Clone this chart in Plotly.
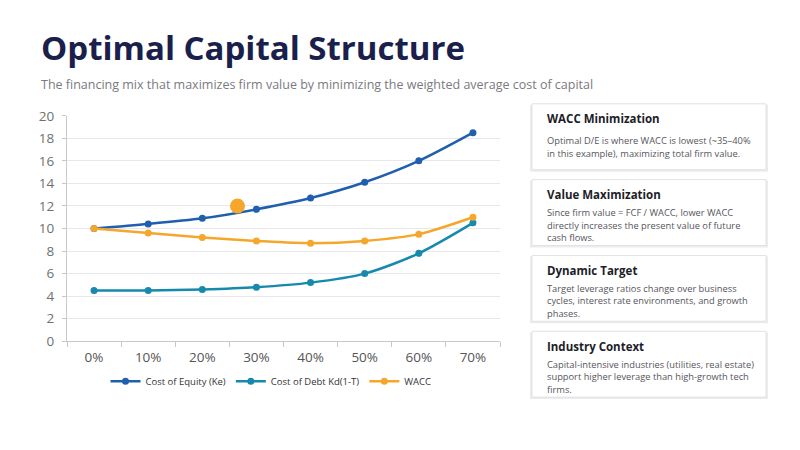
import plotly.graph_objects as go

# Data
leverage = ["0%", "10%", "20%", "30%", "40%", "50%", "60%", "70%"]
cost_equity = [10.0, 10.4, 10.9, 11.7, 12.7, 14.1, 16.0, 18.5]
cost_debt = [4.5, 4.5, 4.6, 4.8, 5.2, 6.0, 7.8, 10.5]
wacc = [10.0, 9.6, 9.2, 8.9, 8.7, 8.9, 9.5, 11.0]
highlight_x = [2.65]
highlight_y = [12.0]

card_titles = ["WACC Minimization", "Value Maximization", "Dynamic Target", "Industry Context"]
card_texts = [
    ["Optimal D/E is where WACC is lowest (~35\u201340%", "in this example), maximizing total firm value."],
    ["Since firm value = FCF / WACC, lower WACC", "directly increases the present value of future", "cash flows."],
    ["Target leverage ratios change over business", "cycles, interest rate environments, and growth", "phases."],
    ["Capital-intensive industries (utilities, real estate)", "support higher leverage than high-growth tech", "firms."],
]

W, H = 800, 450
FONT = "Open Sans"
xs = list(range(len(leverage)))

fig = go.Figure()

series = [
    ("Cost of Equity (Ke)", cost_equity, "#1f5fae"),
    ("Cost of Debt Kd(1-T)", cost_debt, "#158aad"),
    ("WACC", wacc, "#f5a72c"),
]
for name, vals, color in series:
    fig.add_trace(go.Scatter(
        x=xs, y=vals, name=name, mode="lines+markers",
        line=dict(color=color, width=2.5, shape="spline", smoothing=0.8),
        marker=dict(size=7, color=color),
    ))

fig.add_trace(go.Scatter(
    x=highlight_x, y=highlight_y, mode="markers", showlegend=False,
    marker=dict(size=15, color="#f5a72c"), hoverinfo="skip",
))

# pixel -> paper helpers (compensating for the page offset seen in the render)
def py(y):
    return 1 - (y - 17) / 433

def px(x):
    return (x - 7) / W

shapes = []
annotations = []

# Title and subtitle
annotations.append(dict(
    text="<b>Optimal Capital Structure</b>", x=px(38), y=py(48), xref="paper", yref="paper",
    xanchor="left", yanchor="middle", showarrow=False,
    font=dict(size=33, color="#1b1f4b", family=FONT),
))
annotations.append(dict(
    text="The financing mix that maximizes firm value by minimizing the weighted average cost of capital",
    x=px(38), y=py(85), xref="paper", yref="paper", xanchor="left", yanchor="middle",
    showarrow=False, font=dict(size=12.5, color="#7a7a80", family=FONT),
))

# Cards
card_tops = [104, 180, 256, 332]
card_h = 66
for top, title, lines in zip(card_tops, card_titles, card_texts):
    shapes.append(dict(type="rect", xref="paper", yref="paper",
                       x0=px(529), x1=px(767), y0=py(top + card_h + 2), y1=py(top + 1),
                       fillcolor="#ececee", line=dict(width=0), layer="below"))
    shapes.append(dict(type="rect", xref="paper", yref="paper",
                       x0=px(531), x1=px(765), y0=py(top + card_h), y1=py(top),
                       fillcolor="white", line=dict(color="#e2e2e6", width=1), layer="below"))
    annotations.append(dict(
        text="<b>" + title + "</b>", x=px(544), y=py(top + 15), xref="paper", yref="paper",
        xanchor="left", yanchor="middle", showarrow=False,
        font=dict(size=11.5, color="#1d1d28", family=FONT),
    ))
    if len(lines) == 2:
        first, step = top + 37, 13
    else:
        first, step = top + 33, 12.5
    for i, line in enumerate(lines):
        annotations.append(dict(
            text=line, x=px(544), y=py(first + i * step), xref="paper", yref="paper",
            xanchor="left", yanchor="middle", showarrow=False,
            font=dict(size=9.3, color="#55555d", family=FONT),
        ))

fig.update_layout(
    width=W, height=H,
    margin=dict(l=0, r=0, t=0, b=0),
    paper_bgcolor="white", plot_bgcolor="white",
    font=dict(family=FONT, color="#666"),
    shapes=shapes, annotations=annotations,
    legend=dict(orientation="h", x=px(270), y=py(382), xanchor="center", yanchor="middle",
                font=dict(size=9.5, color="#333"), itemwidth=30),
    xaxis=dict(domain=[px(66), px(499)], range=[-0.5, 7.5], tickvals=xs, ticktext=leverage,
               showgrid=False, showline=True, linecolor="#c8c8c8", ticks="",
               ticklabelstandoff=4,
               minor=dict(tickvals=[i - 0.5 for i in range(len(leverage) + 1)],
                          ticks="outside", ticklen=5, tickcolor="#c8c8c8", showgrid=False),
               tickfont=dict(size=13.5, color="#555"), zeroline=False, fixedrange=True),
    yaxis=dict(domain=[py(342), py(116)], range=[0, 20], dtick=2,
               showgrid=True, gridcolor="#e8e8ec", showline=True, linecolor="#c8c8c8",
               ticks="outside", ticklen=4, tickcolor="#c8c8c8", ticklabelstandoff=5,
               tickfont=dict(size=13.5, color="#707070"), zeroline=False, fixedrange=True),
)

fig.write_html("out.html")
